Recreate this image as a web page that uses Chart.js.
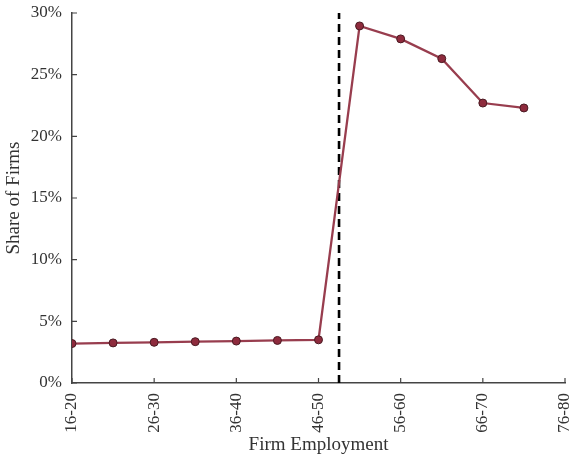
<!DOCTYPE html>
<html>
<head>
<meta charset="utf-8">
<script src="https://cdn.jsdelivr.net/npm/chart.js@4"></script>
<style>
  html, body { margin: 0; padding: 0; background: #fff; }
  #wrap { width: 574px; height: 454px; }
</style>
</head>
<body>
<div id="wrap"><canvas id="myChart" width="574" height="454"></canvas></div>
<script>
// bins of firm employment (one point per bin)
const bins = ['16-20', '21-25', '26-30', '31-35', '36-40', '41-45', '46-50',
              '51-55', '56-60', '61-65', '66-70', '71-75'];
const shares = [3.2, 3.25, 3.3, 3.35, 3.4, 3.45, 3.5, 28.95, 27.9, 26.3, 22.7, 22.3];
const xTickLabels = ['16-20', '26-30', '36-40', '46-50', '56-60', '66-70', '76-80'];
const cutoff = 6.5;   // between 46-50 and 51-55

const textColor = '#333';
const axisColor = '#444';
const fontFamily = '"Liberation Serif", "DejaVu Serif", serif';

// ticks drawn inside the plot, like the original
const innerTicks = {
    id: 'innerTicks',
    afterDraw(chart) {
        const ctx = chart.ctx;
        const xs = chart.scales.x, ys = chart.scales.y;
        ctx.save();
        ctx.strokeStyle = axisColor;
        ctx.lineWidth = 1.2;
        ctx.beginPath();
        xs.ticks.forEach(t => {
            const px = xs.getPixelForValue(t.value);
            ctx.moveTo(px, ys.bottom);
            ctx.lineTo(px, ys.bottom - 5);
        });
        ys.ticks.forEach(t => {
            const py = ys.getPixelForValue(t.value);
            ctx.moveTo(xs.left, py);
            ctx.lineTo(xs.left + 5, py);
        });
        ctx.stroke();
        ctx.restore();
    }
};

function makeChart() {
    const ctx = document.getElementById('myChart');

    const configuration = {
        type: 'line',
        data: {
            datasets: [{
                label: 'Share of Firms',
                data: shares.map((v, i) => ({ x: i, y: v })),
                borderColor: '#983d4e',
                borderWidth: 2.3,
                backgroundColor: '#8e2b3d',
                pointBackgroundColor: '#8e2b3d',
                pointBorderColor: '#4a1a22',
                pointBorderWidth: 1,
                pointRadius: 4,
                tension: 0
            }, {
                label: 'cutoff',
                data: [{ x: cutoff, y: 0 }, { x: cutoff, y: 30 }],
                borderColor: '#000',
                borderWidth: 2.6,
                borderDash: [8, 5],
                pointRadius: 0
            }]
        },
        options: {
            responsive: false,
            animation: false,
            layout: {
                padding: { left: 0, top: 13, right: 9, bottom: 0 }
            },
            plugins: {
                legend: { display: false },
                tooltip: { enabled: false }
            },
            scales: {
                x: {
                    type: 'linear',
                    min: 0,
                    max: 12,
                    afterFit: s => {
                        s.height = 71;
                        s.paddingLeft = 0;
                        s.paddingRight = 0;
                    },
                    border: { color: axisColor, width: 1.5 },
                    grid: { drawOnChartArea: false, drawTicks: false },
                    ticks: {
                        stepSize: 2,
                        minRotation: 90,
                        maxRotation: 90,
                        padding: 10,
                        color: textColor,
                        font: { family: fontFamily, size: 17 },
                        callback: v => xTickLabels[v / 2]
                    },
                    title: {
                        display: true,
                        text: 'Firm Employment',
                        color: textColor,
                        font: { family: fontFamily, size: 19 },
                        padding: { top: 0, bottom: -2 }
                    }
                },
                y: {
                    min: 0,
                    max: 30,
                    afterFit: s => {
                        s.width = 72;
                        s.paddingTop = 0;
                        s.paddingBottom = 0;
                    },
                    border: { color: axisColor, width: 1.5 },
                    grid: { drawOnChartArea: false, drawTicks: false },
                    ticks: {
                        stepSize: 5,
                        padding: 10,
                        color: textColor,
                        font: { family: fontFamily, size: 17 },
                        callback: v => v + '%'
                    },
                    title: {
                        display: true,
                        text: 'Share of Firms',
                        color: textColor,
                        font: { family: fontFamily, size: 19 },
                        padding: { top: 3, bottom: 0 }
                    }
                }
            }
        },
        plugins: [innerTicks]
    };

    new Chart(ctx, configuration);
}

window.onload = function () {
    makeChart();
};
</script>
</body>
</html>
